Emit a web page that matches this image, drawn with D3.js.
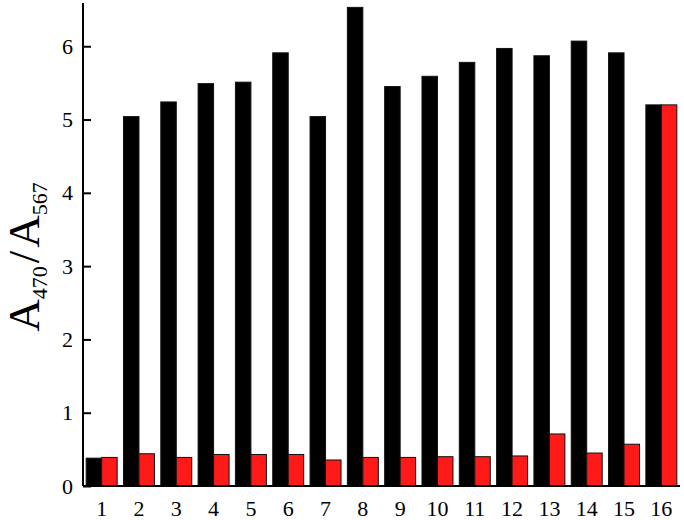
<!DOCTYPE html>
<html><head><meta charset="utf-8">
<script src="https://cdn.jsdelivr.net/npm/d3@7"></script>
<style>html,body{margin:0;padding:0;background:#fff;}svg{display:block;}</style>
</head><body>
<svg id="chart" width="684" height="520"></svg>
<script>
const categories = ["1","2","3","4","5","6","7","8","9","10","11","12","13","14","15","16"];
const seriesNames = ["black","red"];
const blackValues = [0.38,5.04,5.24,5.49,5.51,5.91,5.04,6.53,5.45,5.59,5.78,5.97,5.87,6.07,5.91,5.20];
const redValues   = [0.39,0.44,0.39,0.43,0.43,0.43,0.355,0.39,0.39,0.40,0.40,0.41,0.71,0.45,0.57,5.20];
const yTicks = [0,1,2,3,4,5,6];
const colors = {black:"#000000", red:"#ff1a1a"};
const FONT = "'Liberation Serif', 'Times New Roman', serif";

const svg = d3.select("#chart");
const mLeft = 83, mRight = 680, mTop = 3, mBottom = 486;
const x = d3.scaleBand().domain(categories).range([mLeft, mRight]).paddingInner(0.17).paddingOuter(0.085);
const xs = d3.scaleBand().domain(seriesNames).range([0, x.bandwidth()]);
const y = d3.scaleLinear().domain([0, 6.59]).range([mBottom, mTop]);

const data = categories.map((c,i)=>({cat:c, black:blackValues[i], red:redValues[i]}));
const g = svg.append("g");
g.selectAll("g.grp").data(data).join("g").attr("class","grp")
  .attr("transform", d=>`translate(${x(d.cat)},0)`)
  .selectAll("rect").data(d=>seriesNames.map(s=>({s, v:d[s]}))).join("rect")
  .attr("x", d=>xs(d.s)).attr("width", xs.bandwidth())
  .attr("y", d=>y(d.v)).attr("height", d=>y(0)-y(d.v))
  .attr("fill", d=>colors[d.s]).attr("stroke","#111").attr("stroke-width",1);

// y axis
const yAxis = d3.axisRight(y).tickValues(yTicks).tickSize(8).tickFormat("");
const ya = svg.append("g").attr("transform",`translate(${mLeft},0)`).call(yAxis);
ya.select(".domain").attr("d",`M0,${mTop}V${mBottom}`).attr("stroke","#000").attr("stroke-width",2);
ya.selectAll(".tick line").attr("stroke","#000").attr("stroke-width",2);
svg.append("g").selectAll("text").data(yTicks).join("text")
  .attr("x", mLeft-10).attr("y", d=>y(d)+7.5).attr("text-anchor","end")
  .attr("font-family",FONT).attr("font-size",22)
  .text(d=>d);

// x axis
const xAxis = d3.axisBottom(x).tickSize(0).tickPadding(0);
const xa = svg.append("g").attr("transform",`translate(0,${mBottom})`).call(xAxis);
xa.select(".domain").attr("d",`M${mLeft},0H${mRight}`).attr("stroke","#000").attr("stroke-width",2);
xa.selectAll(".tick text").attr("font-family",FONT)
  .attr("font-size",22).attr("fill","#000").attr("dy",0).attr("y",30);

// y label
const lab = svg.append("text").attr("transform","translate(39,257) rotate(-90)")
  .attr("text-anchor","middle").attr("font-family",FONT)
  .attr("font-size",45).attr("fill","#000");
lab.append("tspan").text("A");
lab.append("tspan").attr("font-size",22).attr("dy",8).text("470");
lab.append("tspan").attr("dy",-8).attr("dx",3).text("/");
lab.append("tspan").attr("dx",3).text("A");
lab.append("tspan").attr("font-size",22).attr("dy",8).text("567");
</script>
</body></html>
